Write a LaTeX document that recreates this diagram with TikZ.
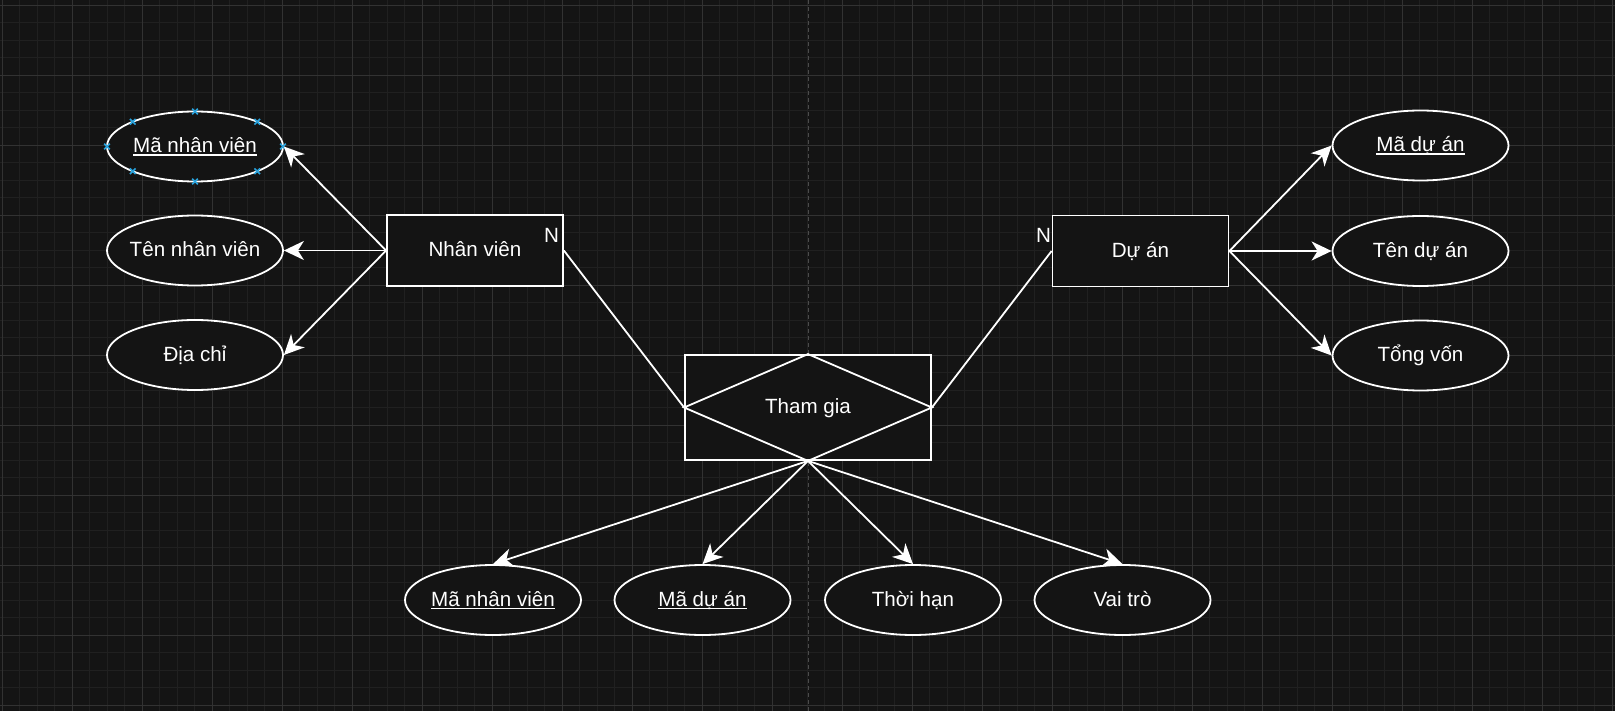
\documentclass[tikz,border=0pt]{standalone}
\usepackage{fontspec}
\setmainfont{Liberation Sans}
\usetikzlibrary{arrows.meta,shapes.geometric,calc}
\definecolor{bg}{HTML}{141414}
\definecolor{gridminor}{HTML}{202020}
\definecolor{gridmajor}{HTML}{323232}
\definecolor{pagebreak}{HTML}{4C4C4C}
\definecolor{handle}{HTML}{29A3DD}
\newcommand{\myul}[1]{\leavevmode\setbox0=\hbox{#1}\rlap{\copy0}\raisebox{-3pt}{\rule{\wd0}{1.2pt}}}
\begin{document}
\begin{tikzpicture}[x=1pt,y=-1pt,
  every node/.style={font=\fontsize{20.6}{24}\selectfont, text=white, text height=16pt, text depth=3.6pt},
  attr/.style={ellipse, draw=white, fill=bg, line width=1.8pt, minimum width=176pt, minimum height=70pt, inner xsep=-30pt, inner ysep=0pt},
  entity/.style={rectangle, draw=white, fill=bg, line width=1.8pt, minimum width=176pt, minimum height=71pt, inner sep=0pt},
  rel/.style={rectangle, draw=white, fill=bg, line width=1.8pt, minimum width=246pt, minimum height=105pt, inner sep=0pt},
  conn/.style={draw=white, line width=1.8pt},
  arr/.style={conn, -{Stealth[length=20pt,width=19pt,inset=6pt]}},
  card/.style={inner sep=0pt},
  handlemark/.style={draw=handle, line width=1.5pt}]
\useasboundingbox (0,0) rectangle (1615,711);
\fill[bg] (0,0) rectangle (1615,711);
% grid
\foreach \i in {0,...,92} \draw[gridminor, line width=0.8pt] ({2.3+17.5*\i},0) -- ({2.3+17.5*\i},711);
\foreach \i in {0,...,40} \draw[gridminor, line width=0.8pt] (0,{5.3+17.5*\i}) -- (1615,{5.3+17.5*\i});
\foreach \i in {0,...,23} \draw[gridmajor, line width=0.8pt] ({2.3+70*\i},0) -- ({2.3+70*\i},711);
\foreach \i in {0,...,10} \draw[gridmajor, line width=0.8pt] (0,{5.3+70*\i}) -- (1615,{5.3+70*\i});
\draw[pagebreak, line width=1pt, dash pattern=on 4pt off 3pt] (808.3,0) -- (808.3,711);
% nodes
\node[attr] (a1) at (195,146.5) {\myul{Mã nhân viên}};
\node[attr] (a2) at (195,250.5) {Tên nhân viên};
\node[attr] (a3) at (195,355) {Địa chỉ};
\node[entity] (nv) at (475,250.5) {Nhân viên};
\node[entity] (da) at (1140.5,251) {Dự án};
\node[attr] (b1) at (1420.5,145.5) {\myul{Mã dự án}};
\node[attr] (b2) at (1420.5,251) {Tên dự án};
\node[attr] (b3) at (1420.5,355.5) {Tổng vốn};
\node[rel] (tg) at (808,407.5) {Tham gia};
\draw[conn, line join=miter] (tg.west) -- (tg.north) -- (tg.east) -- (tg.south) -- cycle;
\node[attr] (c1) at (493,600) {\myul{Mã nhân viên}};
\node[attr] (c2) at (702.5,600) {\myul{Mã dự án}};
\node[attr] (c3) at (913,600) {Thời hạn};
\node[attr] (c4) at (1122.5,600) {Vai trò};
\node[card] (n1) at (551.5,236) {N};
\node[card] (n2) at (1043.5,236) {N};
% selection handles
\foreach \a in {0,45,...,315}
  \draw[handlemark] ($(a1.center)+({88*cos(\a)-2.8},{35*sin(\a)-2.8})$) -- ++(5.6,5.6)
                    ($(a1.center)+({88*cos(\a)-2.8},{35*sin(\a)+2.8})$) -- ++(5.6,-5.6);
% connectors
\draw[arr] (nv.west) -- (a1.east);
\draw[arr] (nv.west) -- (a2.east);
\draw[arr] (nv.west) -- (a3.east);
\draw[arr] (da.east) -- (b1.west);
\draw[arr] (da.east) -- (b2.west);
\draw[arr] (da.east) -- (b3.west);
\draw[conn] (nv.east) -- (tg.west);
\draw[conn] (da.west) -- (tg.east);
\draw[arr] (tg.south) -- (c1.north);
\draw[arr] (tg.south) -- (c2.north);
\draw[arr] (tg.south) -- (c3.north);
\draw[arr] (tg.south) -- (c4.north);
\end{tikzpicture}
\end{document}
